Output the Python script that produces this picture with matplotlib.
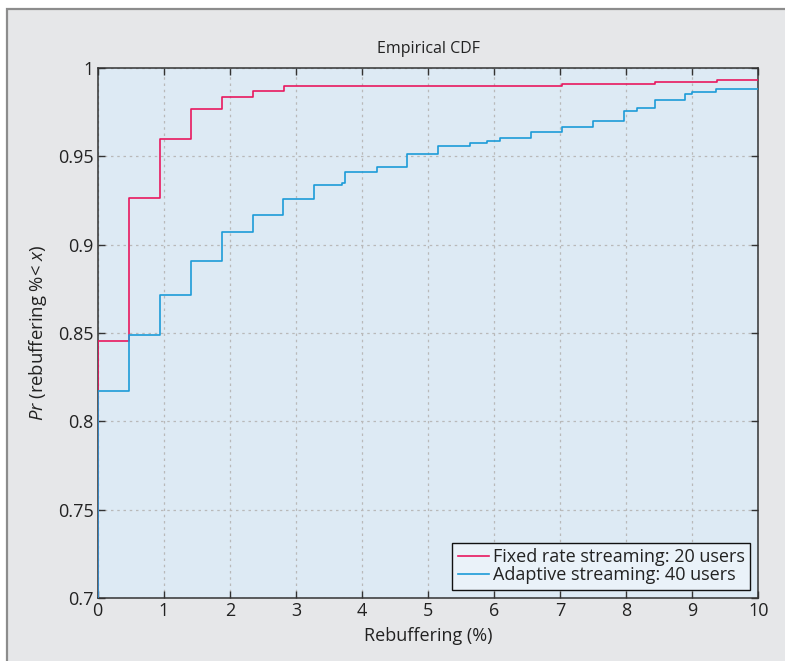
import matplotlib
matplotlib.use("Agg")
import matplotlib.pyplot as plt
from matplotlib.patches import Rectangle

plt.rcParams['font.family'] = ['Open Sans', 'DejaVu Sans']
plt.rcParams['mathtext.fontset'] = 'custom'
plt.rcParams['mathtext.rm'] = 'Open Sans'
plt.rcParams['mathtext.it'] = 'Open Sans:italic'

# Data (step CDFs)
fixed_x = [0, 0, 0.47, 0.94, 1.41, 1.88, 2.35, 2.82, 7.03, 8.44, 9.37, 10]
fixed_y = [0, 0.8457, 0.9266, 0.9596, 0.9768, 0.9838, 0.9872, 0.9900, 0.9908, 0.9919, 0.9930, 0.9930]

adaptive_x = [0, 0, 0.47, 0.94, 1.41, 1.88, 2.35, 2.81, 3.28, 3.70, 3.75, 4.22, 4.68,
              5.15, 5.63, 5.89, 6.09, 6.56, 7.03, 7.50, 7.96, 8.16, 8.43, 8.89, 9.00,
              9.36, 10]
adaptive_y = [0, 0.8172, 0.8487, 0.8715, 0.8910, 0.9074, 0.9168, 0.9259, 0.9336, 0.9347,
              0.9410, 0.9442, 0.9515, 0.9560, 0.9577, 0.9589, 0.9604, 0.9636, 0.9668,
              0.9700, 0.9758, 0.9772, 0.9821, 0.9851, 0.9864, 0.9881, 0.9881]

series_labels = ["Fixed rate streaming: 20 users", "Adaptive streaming: 40 users"]
x_ticks = [0, 1, 2, 3, 4, 5, 6, 7, 8, 9, 10]
y_ticks = [0.7, 0.75, 0.8, 0.85, 0.9, 0.95, 1.0]
y_ticklabels = ["0.7", "0.75", "0.8", "0.85", "0.9", "0.95", "1"]

W, H = 785, 661
fig = plt.figure(figsize=(W / 100, H / 100), dpi=100)
fig.patch.set_facecolor('white')
frame = Rectangle((7 / W, -0.1), 1.2, 1 - 9 / H + 0.1, transform=fig.transFigure,
                  facecolor='#e6e7e9', edgecolor='#8c8c8c', linewidth=1.6, zorder=-10)
fig.patches.append(frame)

ax = fig.add_axes([97.7 / W, 1 - 598 / H, (758.5 - 97.7) / W, (598 - 68) / H])
ax.set_zorder(1)
ax.set_facecolor('#ddeaf4')

red = '#e8185f'
blue = '#1c9bd8'
ax.plot(fixed_x, fixed_y, drawstyle='steps-post', color=red, lw=1.2, label=series_labels[0], zorder=3)
ax.plot(adaptive_x, adaptive_y, drawstyle='steps-post', color=blue, lw=1.2, label=series_labels[1], zorder=3)

ax.set_xlim(0, 10)
ax.set_ylim(0.7, 1.0)
ax.set_xticks(x_ticks)
ax.set_yticks(y_ticks)
ax.set_yticklabels(y_ticklabels)
ax.grid(True, linestyle=(0, (2, 3)), color='#b9b9b9', linewidth=0.9)
ax.set_axisbelow(True)
ax.tick_params(direction='in', length=5, width=1, colors='#333333', labelcolor='#222222',
               labelsize=13, top=True, right=True, pad=3)
for s in ax.spines.values():
    s.set_color('#333333')
    s.set_linewidth(1.1)

ax.set_title('Empirical CDF', fontsize=11.5, color='#222222', pad=11)
ax.set_xlabel('Rebuffering (%)', fontsize=13, color='#222222', labelpad=5)
ax.set_ylabel(r'$\mathit{Pr}$ (rebuffering %< $\mathit{x}$)', fontsize=13.3, color='#222222', labelpad=6)

leg = ax.legend(loc='lower right', fontsize=13, frameon=True, fancybox=False,
                edgecolor='#111111', facecolor='#eaf2f9', framealpha=1,
                handlelength=1.75, handletextpad=0.2, borderpad=0.3, labelspacing=0.0,
                borderaxespad=0.45)
leg.get_frame().set_linewidth(1.0)
for t in leg.get_texts():
    t.set_color('#222222')

fig.savefig('out.png', dpi=100, facecolor=fig.get_facecolor())
